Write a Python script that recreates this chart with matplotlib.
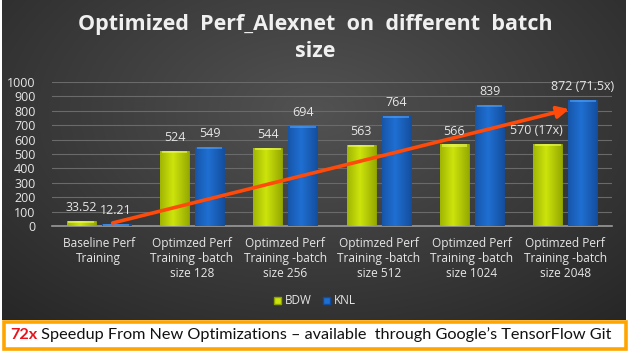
import numpy as np
import matplotlib
matplotlib.use("Agg")
import matplotlib.pyplot as plt
from matplotlib.patches import Rectangle, Patch

# ---- data ----
categories = ["Baseline Perf\nTraining",
              "Optimzed Perf\nTraining -batch\nsize 128",
              "Optimzed Perf\nTraining -batch\nsize 256",
              "Optimzed Perf\nTraining -batch\nsize 512",
              "Optimzed Perf\nTraining -batch\nsize 1024",
              "Optimzed Perf\nTraining -batch\nsize 2048"]
bdw = [33.52, 524, 544, 563, 566, 570]
knl = [12.21, 549, 694, 764, 839, 872]
bdw_labels = ["33.52", "524", "544", "563", "566", "570 (17x)"]
knl_labels = ["12.21", "549", "694", "764", "839", "872 (71.5x)"]
yticks = [0, 100, 200, 300, 400, 500, 600, 700, 800, 900, 1000]
series_names = ["BDW", "KNL"]
title = "Optimized  Perf_Alexnet  on  different  batch\nsize"
banner_bold = "72x"
banner_rest = " Speedup From New Optimizations \u2013 available  through Google\u2019s TensorFlow Git"
arrow_start = (0.15, 21)
arrow_end = (5.04, 812)

W, H = 630, 356
fig = plt.figure(figsize=(W / 100, H / 100), dpi=100)
fig.patch.set_facecolor("white")

# background panel with radial gradient
bg = fig.add_axes([2 / W, 1 - 320 / H, 624 / W, 320 / H])
bg.set_axis_off()
yy, xx = np.mgrid[0:1:200j, 0:1:350j]
r = np.sqrt(((xx - 0.5) / 0.75) ** 2 + ((yy - 0.35) / 0.9) ** 2)
r = np.clip(r, 0, 1)
c0 = np.array([0x52, 0x52, 0x52]) / 255
c1 = np.array([0x26, 0x26, 0x26]) / 255
img = c0[None, None, :] * (1 - r[..., None]) + c1[None, None, :] * r[..., None]
bg.imshow(img, aspect="auto", extent=[0, 1, 0, 1], origin="upper")
bg.set_xlim(0, 1)
bg.set_ylim(0, 1)

# main axes
ax = fig.add_axes([52 / W, 1 - 226 / H, 560 / W, 144 / H])
ax.set_facecolor("none")
x = np.arange(len(categories))
bw = 0.31
gap = 0.065
off = bw / 2 + gap / 2
cols = {"BDW": ("#CDE40C", "#F2FF66", "#8FA300"), "KNL": ("#1F6FD2", "#5AA8FF", "#134C9A")}

def draw_bars(xpos, vals, name):
    base, light, dark = cols[name]
    bars = ax.bar(xpos, vals, bw, color=base, edgecolor=dark, linewidth=0.6, zorder=3, label=name)
    grad = np.linspace(0, 1, 64)
    shade = 1 - np.abs(grad - 0.45) * 1.6
    shade = np.clip(shade, 0, 1)
    cb = np.array(matplotlib.colors.to_rgb(base))
    cd = np.array(matplotlib.colors.to_rgb(dark))
    cl = np.array(matplotlib.colors.to_rgb(light))
    row = cd[None, :] * (1 - shade[:, None]) + cb[None, :] * shade[:, None]
    for b in bars:
        x0, y0, w, h = b.get_x(), b.get_y(), b.get_width(), b.get_height()
        im = ax.imshow(row[None, :, :], extent=[x0, x0 + w, y0, y0 + h],
                       aspect="auto", zorder=3.5, interpolation="bilinear")
        im.set_clip_path(b)
        cap = min(h, 14)
        ax.add_patch(Rectangle((x0 + w * 0.06, y0 + h - cap), w * 0.88, cap,
                               facecolor=cl, edgecolor="none", alpha=0.55, zorder=3.6))
    return bars

b1 = draw_bars(x - off, bdw, "BDW")
b2 = draw_bars(x + off, knl, "KNL")

txtc = "#E6E6E6"
lab_font = dict(color=txtc, fontsize=9, family="Open Sans")
for i, (xi, v, lab) in enumerate(zip(x - off, bdw, bdw_labels)):
    dx = -8 if len(lab) > 6 else 0
    ax.annotate(lab, (xi, v), xytext=(dx, 5), textcoords="offset points",
                ha="center", va="bottom", zorder=7, **lab_font)
for xi, v, lab in zip(x + off, knl, knl_labels):
    ax.annotate(lab, (xi, v), xytext=(0, 5), textcoords="offset points",
                ha="center", va="bottom", zorder=7, **lab_font)

ax.annotate("", xy=arrow_end, xytext=arrow_start,
            arrowprops=dict(arrowstyle="-|>,head_length=0.7,head_width=0.35",
                            color="#FF4A0A", lw=2.6, shrinkA=0, shrinkB=0), zorder=6)

ax.set_xlim(-0.5, len(categories) - 0.5)
ax.set_ylim(0, 1000)
ax.set_yticks(yticks)
ax.set_yticklabels([str(t) for t in yticks], color=txtc, fontsize=9, family="Open Sans")
ax.set_xticks(x)
ax.set_xticklabels(categories, color=txtc, fontsize=8.6, family="Open Sans", linespacing=1.2)
ax.tick_params(axis="both", length=0)
ax.tick_params(axis="x", pad=8)
ax.tick_params(axis="y", pad=12)
ax.grid(axis="y", color="#6a6a6a", lw=0.8, zorder=0)
for s in ["top", "right", "left"]:
    ax.spines[s].set_visible(False)
ax.spines["bottom"].set_color("#9a9a9a")
ax.spines["bottom"].set_linewidth(1.2)

fig.text(0.5, 1 - 38 / H, title, ha="center", va="center", color="#F0F0F0",
         fontsize=15.5, fontweight="bold", family="Open Sans", linespacing=1.35)

# legend
handles = [Patch(facecolor=cols[n][0], edgecolor=cols[n][2]) for n in series_names]
fig.legend(handles, series_names, loc="center", bbox_to_anchor=(0.5, 1 - 301 / H),
           ncol=2, frameon=False, labelcolor=txtc,
           handlelength=0.6, handleheight=0.6, handletextpad=0.3, columnspacing=1.0,
           prop={"family": "Open Sans", "size": 8.5})

# banner
fig.patches.append(Rectangle((3.5 / W, 1 - 349 / H), 622 / W, 27.5 / H, transform=fig.transFigure,
                             facecolor="white", edgecolor="#FFA500", lw=2.6, figure=fig, zorder=5))
renderer = fig.canvas.get_renderer()
fs = 12.0
for _ in range(3):
    t1 = fig.text(10 / W, 1 - 335 / H, banner_bold, ha="left", va="center", color="#E8141C",
                  fontsize=fs, fontweight="bold", family="Lato", zorder=10)
    ext = t1.get_window_extent(renderer=renderer)
    t2 = fig.text(ext.x1 / W, 1 - 335 / H, banner_rest, ha="left", va="center", color="#111111",
                  fontsize=fs, family="Lato", zorder=10)
    e2 = t2.get_window_extent(renderer=renderer)
    total = e2.x1 - 10
    if abs(total - 602) < 3:
        break
    t1.remove()
    t2.remove()
    fs = fs * 602 / total

fig.savefig("out.png", dpi=100)
